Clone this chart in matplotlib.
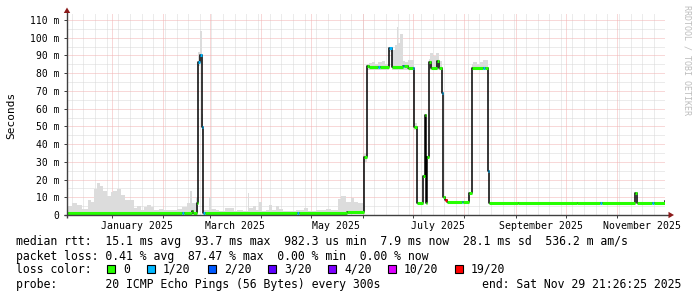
import numpy as np
import pandas as pd
import matplotlib
matplotlib.use("Agg")
import matplotlib.pyplot as plt
import matplotlib.dates as mdates
import matplotlib.transforms as mtrans
from matplotlib.patches import Rectangle, Polygon

nan = float("nan")

# ---------------- data ----------------
epoch = "2025-01-01"
graph_start = "2024-12-04 21:26:25"
graph_end = "2025-11-29 21:26:25"

# median rtt as steps: day offset (from epoch) where each step starts, value (ms), lost pings of 20
med_day = [-27.1, 42.5, 43.5, 48.1, 49.1, 51.0, 51.7, 52.9, 54.1, 54.6, 56.1,
           111.4, 112.6, 141.5, 151.9, 153.2, 154.7, 160.4, 161.3, 166.9, 168.4,
           175.0, 175.8, 178.3, 181.2, 182.0, 183.4, 186.9, 188.1, 189.0, 189.4,
           190.6, 192.0, 195.6, 197.0, 198.4, 199.0, 200.4, 201.5, 210.8, 211.5,
           215.0, 216.5, 223.2, 224.2, 226.1, 227.1, 244.3, 279.8, 293.7, 294.6,
           314.4, 315.7, 325.1, 325.9, 332.7]
med_ms = [1.0, 1.0, 1.0, 2.0, 1.0, 7.0, 86.5, 90.0, 49.5, 1.0, 1.0,
          1.0, 1.0, 1.5, 33.0, 84.0, 83.3, 83.3, 83.3, 94.0, 83.5,
          84.0, 84.0, 83.0, 83.0, 49.8, 6.9, 22.0, 56.5, 7.0, 32.5,
          86.5, 83.0, 87.0, 83.0, 69.0, 10.3, 8.5, 7.2, 7.2, 7.2,
          12.2, 83.0, 83.0, 83.0, 24.8, 7.0, 6.7, 6.9, 6.9, 6.9,
          12.2, 6.8, 6.8, 6.8, 8.0]
med_loss = [0, 1, 0, 0, 0, 0, 1, 1, 1, 1, 0,
            1, 0, 0, 0, 0, 0, 1, 0, 1, 0,
            1, 0, 0, 1, 0, 0, 0, 0, 0, 0,
            0, 0, 0, 0, 1, 0, 19, 0, 1, 0,
            0, 0, 1, 0, 1, 0, 0, 0, 1, 0,
            0, 0, 1, 0, 0]

# smoke (spread of the 20 pings): step start day, lowest and highest value (ms)
smoke_day = [-27.1, -23.7, -20.7, -17.7, -14.3, -12.6, -10.6, -8.7, -7.0, -5.1,
             -3.0, -0.6, 1.0, 3.4, 5.8, 7.8, 13.4, 15.4, 17.8, 19.4,
             21.4, 23.8, 25.4, 28.4, 31.4, 39.4, 42.5, 45.1, 47.1, 48.5,
             50.5, 51.7, 52.9, 54.1, 54.6, 58.5, 59.9, 62.7, 64.7, 68.3,
             73.7, 75.2, 78.8, 81.8, 82.7, 84.8, 86.8, 88.8, 90.4, 92.8,
             94.8, 96.4, 98.8, 100.8, 102.8, 110.8, 112.8, 115.8, 117.9, 122.8,
             125.9, 128.9, 131.9, 135.9, 137.9, 140.9, 143.9, 145.9, 147.9, 151.9,
             153.2, 154.9, 156.3, 158.3, 160.3, 162.4, 164.4, 166.9, 168.4, 170.4,
             171.4, 172.4, 173.4, 175.2, 176.4, 178.4, 182.0, 183.4, 190.6, 191.4,
             193.0, 195.0, 197.0, 198.4, 216.5, 217.5, 219.5, 221.5, 223.5, 226.1]
smoke_hi = [5.1, 6.6, 5.4, 3.6, 8.5, 7.3, 14.5, 18.2, 16.6, 13.5,
            10.7, 12.9, 13.5, 14.5, 11.5, 8.5, 4.1, 5.0, 3.0, 4.5,
            5.6, 4.5, 3.0, 3.6, 3.0, 3.3, 4.5, 6.6, 13.5, 7.0,
            10.0, 92.0, 104.0, 57.0, 3.0, 10.2, 3.6, 2.6, 2.3, 4.1,
            2.3, 3.0, 2.3, 12.6, 4.1, 5.1, 3.0, 7.3, 2.3, 3.0,
            5.4, 2.6, 5.1, 3.6, 2.3, 2.6, 3.0, 4.1, 2.3, 3.0,
            2.6, 3.6, 2.6, 8.8, 10.7, 7.3, 9.8, 7.3, 6.6, 35.0,
            85.0, 85.9, 86.5, 85.3, 86.5, 87.1, 85.3, 95.0, 93.0, 96.0,
            106.0, 97.0, 102.0, 87.0, 86.5, 87.7, 52.0, nan, 88.0, 91.2,
            89.7, 91.2, 87.0, nan, 85.3, 86.5, 85.3, 86.5, 87.3, nan]
smoke_lo = [0.9] * 30 + \
           [0.9, 84.0, 86.0, 45.0, 0.9, 0.9, 0.9, 0.9, 0.9, 0.9] + \
           [0.9] * 20 + \
           [0.9] * 9 + [30.0] + \
           [82.0] * 7 + [92.0, 82.0, 82.0] + \
           [82.0] * 6 + [48.0, nan, 82.0, 82.0] + \
           [82.0, 82.0, 82.0, nan, 82.0, 82.0, 82.0, 82.0, 82.0, nan]

loss_levels = [0, 1, 2, 3, 4, 10, 19]
loss_labels = ["0", "1/20", "2/20", "3/20", "4/20", "10/20", "19/20"]
loss_colors = ["#26ff00", "#00b8ff", "#0059ff", "#5e00ff", "#7e00ff", "#dd00ff", "#ff0000"]

y_ticks = [0, 10, 20, 30, 40, 50, 60, 70, 80, 90, 100, 110]
y_labels = ["0", "10 m", "20 m", "30 m", "40 m", "50 m", "60 m", "70 m", "80 m",
            "90 m", "100 m", "110 m"]
month_labels = ["January 2025", "March 2025", "May 2025", "July 2025",
                "September 2025", "November 2025"]

stats_rtt = "median rtt:  15.1 ms avg  93.7 ms max  982.3 us min  7.9 ms now  28.1 ms sd  536.2 m am/s"
stats_loss = "packet loss: 0.41 % avg  87.47 % max  0.00 % min  0.00 % now"
probe_text = "probe:       20 ICMP Echo Pings (56 Bytes) every 300s"
end_text = "end: Sat Nov 29 21:26:25 2025"

assert len(med_day) == len(med_ms) == len(med_loss)
assert len(smoke_day) == len(smoke_hi) == len(smoke_lo)

# ---------------- figure ----------------
W, H = 697, 297
MONO = "DejaVu Sans Mono"
plt.rcParams["font.family"] = [MONO]

fig = plt.figure(figsize=(W / 100, H / 100), dpi=100, facecolor="white")
AX_L, AX_W, AX_B, AX_H = 66.6, 598.8, 215.0, 202.0
ax = fig.add_axes([AX_L / W, (H - AX_B) / H, AX_W / W, AX_H / H])
ax.set_facecolor("white")

e0 = mdates.date2num(pd.Timestamp(epoch))
def to_num(days):
    return e0 + np.asarray(days, dtype=float)

end_day = (pd.Timestamp(graph_end) - pd.Timestamp(epoch)) / pd.Timedelta(days=1)
x_start = mdates.date2num(pd.Timestamp(graph_start))
x_end = mdates.date2num(pd.Timestamp(graph_end))
ax.set_xlim(x_start, x_end)
ax.set_ylim(0, AX_H / 1.7727)

# grid
px = 0.72
minor_col, major_col = "#d9d9d9", "#f2b3b3"
dot = (0, (1, 1))
for v in np.arange(5, 114, 10):
    ax.axhline(v, color=minor_col, lw=px, ls=dot, zorder=0)
weeks = pd.date_range(graph_start, graph_end, freq="W-SUN", normalize=True)
for d in weeks:
    ax.axvline(mdates.date2num(d), color=minor_col, lw=px, ls=dot, zorder=0)
for v in y_ticks[1:]:
    ax.axhline(v, color=major_col, lw=px, ls=dot, zorder=0.5)
month_starts = pd.date_range("2025-01-01", "2025-11-01", freq="MS")
for d in month_starts:
    ax.axvline(mdates.date2num(d), color=major_col, lw=px, ls=dot, zorder=0.5)

# smoke
sx = to_num(smoke_day)
sw = np.diff(np.append(sx, to_num([end_day])))
slo = np.array(smoke_lo)
shi = np.array(smoke_hi)
ok = ~np.isnan(slo) & ~np.isnan(shi)
ax.bar(sx[ok], (shi - slo)[ok], width=sw[ok], bottom=slo[ok], align="edge",
       color="#dcdcdc", linewidth=0, zorder=1)

# median
mx = to_num(med_day + [end_day])
ax.step(mx, med_ms + [med_ms[-1]], where="post", color="#000000", lw=1.1, zorder=3)

def loss_color(n):
    idx = max(i for i, lv in enumerate(loss_levels) if lv <= n)
    return loss_colors[idx]

ax.hlines(med_ms, mx[:-1], mx[1:], colors=[loss_color(n) for n in med_loss],
          lw=2.2, zorder=4)

# axes decorations
for s in ax.spines.values():
    s.set_visible(False)
ax.set_yticks(y_ticks)
ax.set_yticklabels(y_labels, fontsize=7.05, family=MONO)
ax.tick_params(axis="y", direction="out", length=2.2, width=px, color="#404040", pad=2.9)
ax.set_xticks(mdates.date2num(month_starts))
ax.set_xticklabels([])
ax.tick_params(axis="x", direction="out", length=2.2, width=px, color="#404040")

def fx(p):
    return (p - AX_L) / AX_W
def fy(p):
    return (AX_B - p) / AX_H

axis_col = "#404040"
arrow_col = "#8b1a1a"
ax.plot([0, 0], [fy(218), fy(11)], color=axis_col, lw=1.0, transform=ax.transAxes,
        clip_on=False, zorder=6, solid_capstyle="butt")
ax.plot([fx(63.5), fx(670)], [0, 0], color=axis_col, lw=1.0, transform=ax.transAxes,
        clip_on=False, zorder=6, solid_capstyle="butt")
ax.add_patch(Polygon([(fx(67), fy(7.5)), (fx(63.8), fy(13)), (fx(70.2), fy(13))],
                     closed=True, color=arrow_col, transform=ax.transAxes,
                     clip_on=False, zorder=7, lw=0))
ax.add_patch(Polygon([(fx(674), fy(215)), (fx(668.5), fy(211.8)), (fx(668.5), fy(218.2))],
                     closed=True, color=arrow_col, transform=ax.transAxes,
                     clip_on=False, zorder=7, lw=0))

blend = mtrans.blended_transform_factory(ax.transData, ax.transAxes)
for d, lab in zip(month_starts[::2], month_labels):
    ax.text(mdates.date2num(d + pd.Timedelta(days=15)), fy(228.6), lab,
            transform=blend, ha="center", va="baseline", fontsize=7.1, family=MONO)

# side texts
fig.text(10.8 / W, 1 - 115 / H, "Seconds", rotation=90, ha="center", va="center",
         fontsize=8, family=MONO)
fig.text(687 / W, 1 - 60 / H, "RRDTOOL / TOBI OETIKER", rotation=270, ha="center",
         va="center", fontsize=6, family=MONO, color="#bdbdbd")

# legend area
LF = 8.3
def ftext(xp, yp, s, **kw):
    fig.text(xp / W, 1 - yp / H, s, fontsize=LF, family=MONO, va="baseline", **kw)

ftext(16.5, 245.3, stats_rtt)
ftext(16.5, 259.6, stats_loss)
ftext(16.5, 273.0, "loss color:")
ftext(16.5, 287.7, probe_text)
ftext(681.5, 287.7, end_text, ha="right")

box_x = [107.3, 146.7, 208.3, 268.3, 328.3, 388.3, 455.3]
for bx, col, lab in zip(box_x, loss_colors, loss_labels):
    fig.add_artist(Rectangle((bx / W, 1 - 272.7 / H), 8 / W, 8 / H,
                             transform=fig.transFigure, facecolor=col,
                             edgecolor="black", lw=0.8))
    ftext(bx + 15.8, 273.0, lab)

fig.savefig("out.png", dpi=100, facecolor="white")
